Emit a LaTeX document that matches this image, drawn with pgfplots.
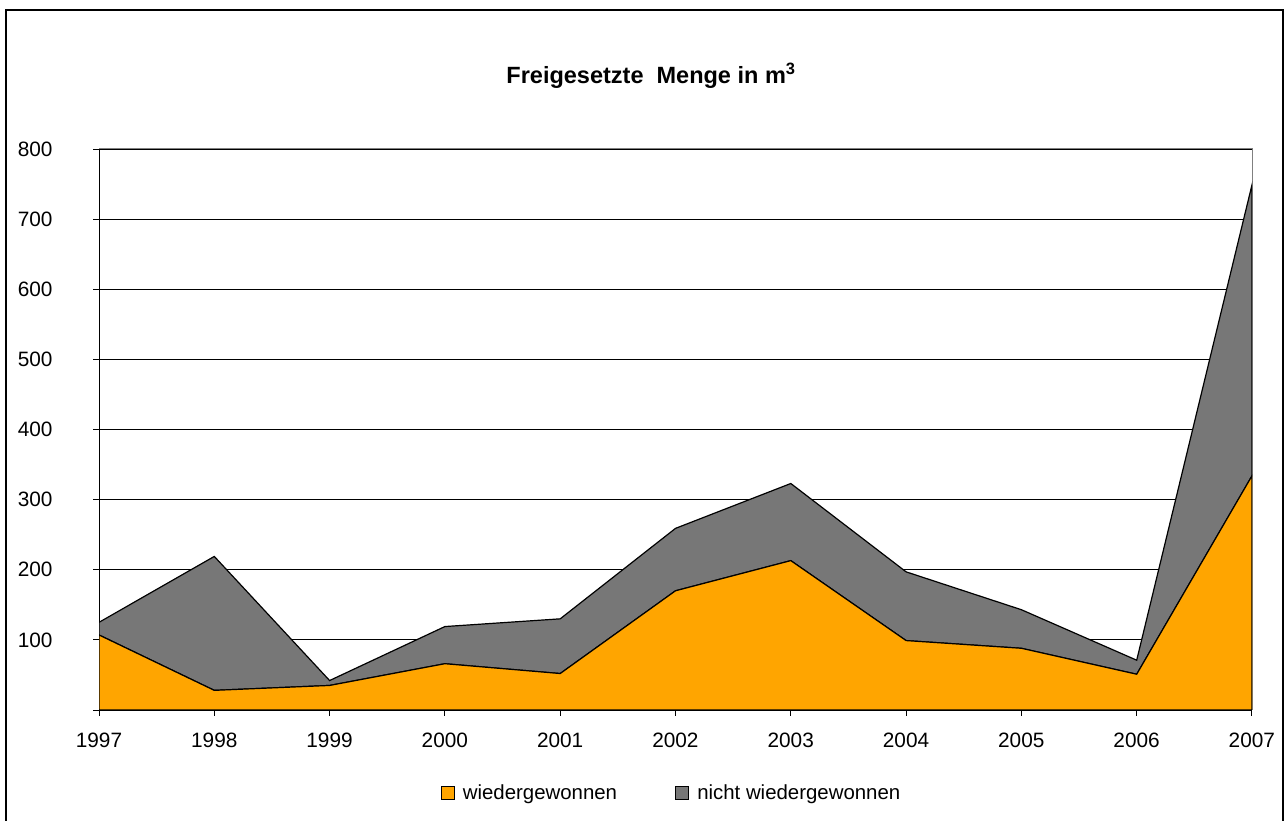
\documentclass[border=0pt]{standalone}
\usepackage{fontspec}
\setmainfont{Liberation Sans}
\usepackage{pgfplots}
\pgfplotsset{compat=1.18}
\definecolor{areaorange}{RGB}{255,165,0}
\definecolor{areagray}{RGB}{119,119,119}
\definecolor{bordergray}{RGB}{128,128,128}
\begin{document}
\begin{tikzpicture}[font=\fontsize{20.8bp}{25bp}\selectfont]
\path[use as bounding box] (0bp,0bp) rectangle (1285bp,821bp);
\draw[line width=2bp] (6bp,0bp) -- (6bp,811bp) -- (1283bp,811bp) -- (1283bp,0bp);
\node[font=\bfseries\fontsize{23.5bp}{28bp}\selectfont] at (651bp,745bp) {Freigesetzte\ \ Menge in m\textsuperscript{3}};
\begin{axis}[
  at={(99bp,111bp)}, anchor=south west, scale only axis,
  width=1153bp, height=561bp,
  xmin=1997, xmax=2007, ymin=0, ymax=800,
  xtick={1997,...,2007},
  ytick={0,100,...,800},
  yticklabels={,100,200,300,400,500,600,700,800},
  /pgf/number format/1000 sep={},
  /pgf/number format/assume math mode=true,
  ticklabel style={font=\fontsize{20.8bp}{25bp}\selectfont},
  yticklabel style={xshift=-37bp},
  xticklabel style={yshift=-13bp},
  tick align=outside, xtick pos=bottom, ytick pos=left,
  major tick length=6bp,
  tick style={black, line width=0.8bp},
  ymajorgrids, grid style={black, line width=0.8bp},
  axis line style={bordergray, line width=1bp},
  stack plots=y,
  legend columns=2,
  legend style={at={(0.4965,-0.148)}, anchor=center, draw=none, fill=none,
    font=\fontsize{20.4bp}{25bp}\selectfont,
    /tikz/every odd column/.append style={column sep=6bp},
    /tikz/every even column/.append style={column sep=56bp}},
  legend image code/.code={\draw[#1, draw=black, line width=1.2bp] (0bp,-6.5bp) rectangle (13bp,6.5bp);},
]
\addplot[fill=areaorange, draw=black, line width=1.2bp] coordinates {
(1997,107) (1998,28) (1999,35) (2000,66) (2001,52) (2002,170) (2003,213) (2004,99) (2005,88) (2006,51) (2007,334)
} \closedcycle;
\addplot[fill=areagray, draw=black, line width=1.2bp] coordinates {
(1997,18) (1998,191) (1999,7) (2000,53) (2001,78) (2002,89) (2003,110) (2004,98) (2005,55) (2006,20) (2007,415)
} \closedcycle;
\legend{wiedergewonnen, nicht wiedergewonnen}
\draw[black, line width=1bp] (rel axis cs:0,1) -- (rel axis cs:0,0) -- (rel axis cs:1,0);
\end{axis}
\end{tikzpicture}
\end{document}
